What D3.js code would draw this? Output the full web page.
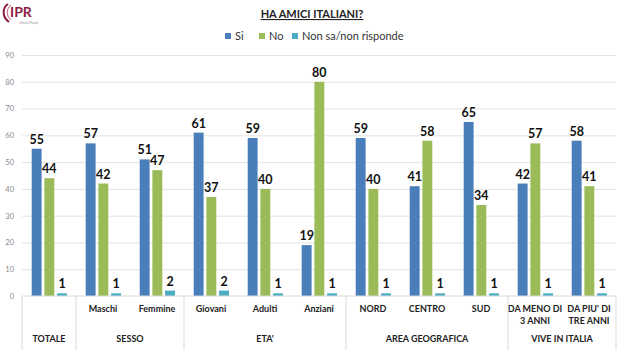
<!DOCTYPE html>
<html>
<head>
<meta charset="utf-8">
<script src="https://cdn.jsdelivr.net/npm/d3@7"></script>
<style>
  body { margin: 0; background: #fff; }
  text { font-family: Lato, "Open Sans", sans-serif; }
</style>
</head>
<body>
<div id="chart"></div>
<script>
var categories = ["TOTALE", "Maschi", "Femmine", "Giovani", "Adulti", "Anziani", "NORD", "CENTRO", "SUD", "DA MENO DI|3 ANNI", "DA PIU' DI|TRE ANNI"];
var groups = [
    {name: "", span: 1},
    {name: "SESSO", span: 2},
    {name: "ETA'", span: 3},
    {name: "AREA GEOGRAFICA", span: 3},
    {name: "VIVE IN ITALIA", span: 2}
];
var si = [55, 57, 51, 61, 59, 19, 59, 41, 65, 42, 58];
var no = [44, 42, 47, 37, 40, 80, 40, 58, 34, 57, 41];
var nonSa = [1, 1, 2, 2, 1, 1, 1, 1, 1, 1, 1];
var seriesNames = ["Si", "No", "Non sa/non risponde"];
var colors = ["#4a7ebb", "#9bbb59", "#4bacc6"];
var yTicks = [0, 10, 20, 30, 40, 50, 60, 70, 80, 90];

var W = 626, H = 350;
var mLeft = 22, mRight = 616, mTop = 55, mBottom = 296;

var svg = d3.select("#chart").append("svg")
    .attr("width", W)
    .attr("height", H);

// logo
var logo = svg.append("g");
logo.append("path")
    .attr("d", "M8,4 C2,8 2,17 9,22")
    .attr("fill", "none").attr("stroke", "#8b1d3f").attr("stroke-width", 2);
logo.append("path")
    .attr("d", "M11,5 C6,9 6,16 11,20")
    .attr("fill", "none").attr("stroke", "#c4546e").attr("stroke-width", 1);
logo.append("text")
    .attr("x", 10).attr("y", 17)
    .attr("font-size", 14).attr("font-weight", "bold")
    .attr("fill", "#8b1d3f")
    .text("IPR");
logo.append("text")
    .attr("x", 19).attr("y", 24)
    .attr("font-size", 3).attr("fill", "#999")
    .text("Istituto Piepoli");

// title
svg.append("text")
    .attr("x", 312).attr("y", 18)
    .attr("text-anchor", "middle")
    .attr("font-size", 11).attr("font-weight", "bold")
    .attr("fill", "#222")
    .attr("text-decoration", "underline")
    .text("HA AMICI ITALIANI?");

// legend
var legendX = [225, 259, 292];
seriesNames.forEach(function(name, i){
    svg.append("rect")
        .attr("x", legendX[i]).attr("y", 33)
        .attr("width", 6).attr("height", 6)
        .attr("fill", colors[i]);
    svg.append("text")
        .attr("x", legendX[i] + 10).attr("y", 40)
        .attr("font-size", 11).attr("fill", "#333")
        .text(name);
});

var yScale = d3.scaleLinear().domain([0, 90]).range([mBottom, mTop]);
var xScale = d3.scaleBand().domain(d3.range(categories.length)).range([mLeft, mRight]);
var inner = d3.scaleBand().domain([0, 1, 2]).range([9.7, 45]).paddingInner(0.22);

// grid
svg.append("g")
    .attr("transform", "translate(" + mLeft + ",0)")
    .call(d3.axisLeft(yScale).tickValues(yTicks).tickSize(-(mRight - mLeft)).tickPadding(8))
    .call(function(g){
        g.select(".domain").remove();
        g.selectAll(".tick line").attr("stroke", "#e3e3e3");
        g.selectAll(".tick text").attr("fill", "#888").attr("font-size", 7.5)
            .style("font-family", "Lato, sans-serif");
        g.selectAll(".tick").filter(function(d){ return d === 0; }).select("line").remove();
    });

// bars
var allSeries = [si, no, nonSa];
allSeries.forEach(function(vals, s){
    svg.append("g").selectAll("rect")
        .data(vals)
        .join("rect")
        .attr("x", function(d, i){ return xScale(i) + inner(s); })
        .attr("y", function(d){ return yScale(d); })
        .attr("width", inner.bandwidth())
        .attr("height", function(d){ return mBottom - yScale(d); })
        .attr("fill", colors[s]);
    svg.append("g").selectAll("text")
        .data(vals)
        .join("text")
        .attr("x", function(d, i){ return xScale(i) + inner(s) + inner.bandwidth() / 2; })
        .attr("y", function(d){ return yScale(d) - 5; })
        .attr("text-anchor", "middle")
        .attr("font-size", 12.5).attr("font-weight", "bold")
        .attr("fill", "#111")
        .text(function(d){ return d; });
});

// x axis line
svg.append("line")
    .attr("x1", mLeft).attr("x2", mRight)
    .attr("y1", mBottom).attr("y2", mBottom)
    .attr("stroke", "#d9d9d9");

// category labels
categories.forEach(function(c, i){
    var lines = c.split("|");
    var cx = xScale(i) + xScale.bandwidth() / 2;
    if (i === 0) return;
    lines.forEach(function(l, j){
        svg.append("text")
            .attr("x", cx).attr("y", 312 + j * 12)
            .attr("text-anchor", "middle")
            .attr("font-size", 9).attr("font-weight", "bold")
            .attr("fill", "#222")
            .text(l);
    });
});

// group labels and separators
var idx = 0;
var seps = [mLeft];
groups.forEach(function(g, k){
    var x0 = xScale(idx);
    var x1 = xScale(idx + g.span - 1) + xScale.bandwidth();
    var label = k === 0 ? categories[0] : g.name;
    svg.append("text")
        .attr("x", (x0 + x1) / 2).attr("y", 342)
        .attr("text-anchor", "middle")
        .attr("font-size", 9).attr("font-weight", "bold")
        .attr("fill", "#222")
        .text(label);
    seps.push(x1);
    idx += g.span;
});
seps.forEach(function(x){
    svg.append("line")
        .attr("x1", x).attr("x2", x)
        .attr("y1", mBottom).attr("y2", H)
        .attr("stroke", "#d9d9d9");
});
</script>
</body>
</html>
